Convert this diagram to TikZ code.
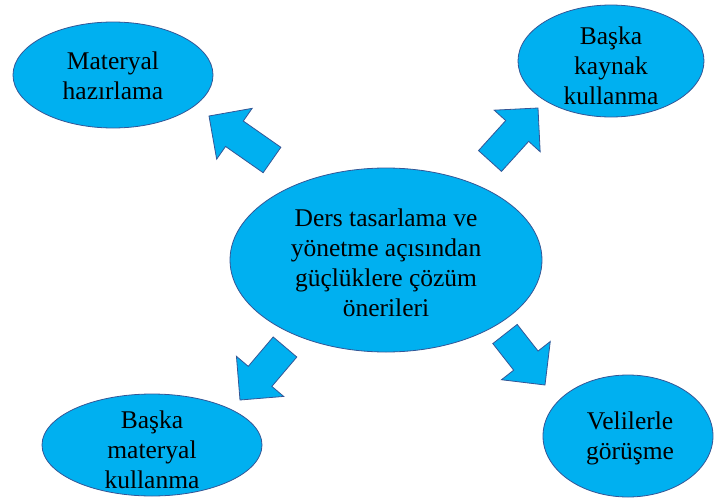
\documentclass[tikz,border=0pt]{standalone}
\usepackage{fontspec}
\setmainfont{Liberation Serif}
\usetikzlibrary{shapes.geometric,calc}
\definecolor{bubblefill}{RGB}{0,176,240}
\definecolor{bubbleline}{RGB}{52,86,150}
\tikzset{
  bubble/.style={ellipse, draw=bubbleline, fill=bubblefill, line width=0.8pt, inner sep=0pt},
  caption/.style={align=center, font=\fontsize{25.5}{30}\selectfont, inner sep=0pt},
  fatarrow/.style={draw=bubbleline, fill=bubblefill, line width=0.8pt, line join=miter},
}
% block arrow from a tail coordinate to a tip coordinate
\newcommand\blockarrow[2]{%
  \coordinate (#2-neck) at ($(#2)!31pt!(#1)$);
  \draw[fatarrow]
    ($(#1)!15.5pt!90:(#2)$) -- ($(#2-neck)!15.5pt!90:(#2)$)
    -- ($(#2-neck)!31pt!90:(#2)$) -- (#2)
    -- ($(#2-neck)!31pt!-90:(#2)$) -- ($(#2-neck)!15.5pt!-90:(#2)$)
    -- ($(#1)!15.5pt!-90:(#2)$) -- cycle;
}
\begin{document}
\begin{tikzpicture}[x=1pt,y=-1pt]
\path[use as bounding box] (0,0) rectangle (716,501);

% arrows pointing outward from the central idea
\coordinate (a1t) at (272,160); \coordinate (a1h) at (209,116);
\coordinate (a2t) at (490,161); \coordinate (a2h) at (538,108);
\coordinate (a3t) at (285,347); \coordinate (a3h) at (240,400);
\coordinate (a4t) at (505,334); \coordinate (a4h) at (545,385);
\blockarrow{a1t}{a1h}
\blockarrow{a2t}{a2h}
\blockarrow{a3t}{a3h}
\blockarrow{a4t}{a4h}

% ellipses
\node[bubble, minimum width=200pt, minimum height=106pt] (mat)  at (113,75)  {};
\node[bubble, minimum width=186pt, minimum height=112pt] (kay)  at (611,61)  {};
\node[bubble, minimum width=312pt, minimum height=184pt] (core) at (386,260) {};
\node[bubble, minimum width=220pt, minimum height=102pt] (bmat) at (152,445) {};
\node[bubble, minimum width=170pt, minimum height=122pt] (veli) at (628,436) {};

% texts
\node[caption] at ($(mat)+(0,1)$)  {Materyal\\hazırlama};
\node[caption] at ($(kay)+(0,5)$)  {Başka\\kaynak\\kullanma};
\node[caption] at ($(core)+(0,3)$) {Ders tasarlama ve\\yönetme açısından\\güçlüklere çözüm\\önerileri};
\node[caption] at ($(bmat)+(0,5)$) {Başka\\materyal\\kullanma};
\node[caption] at ($(veli)+(2,2)$) {Velilerle\\görüşme};
\end{tikzpicture}
\end{document}
